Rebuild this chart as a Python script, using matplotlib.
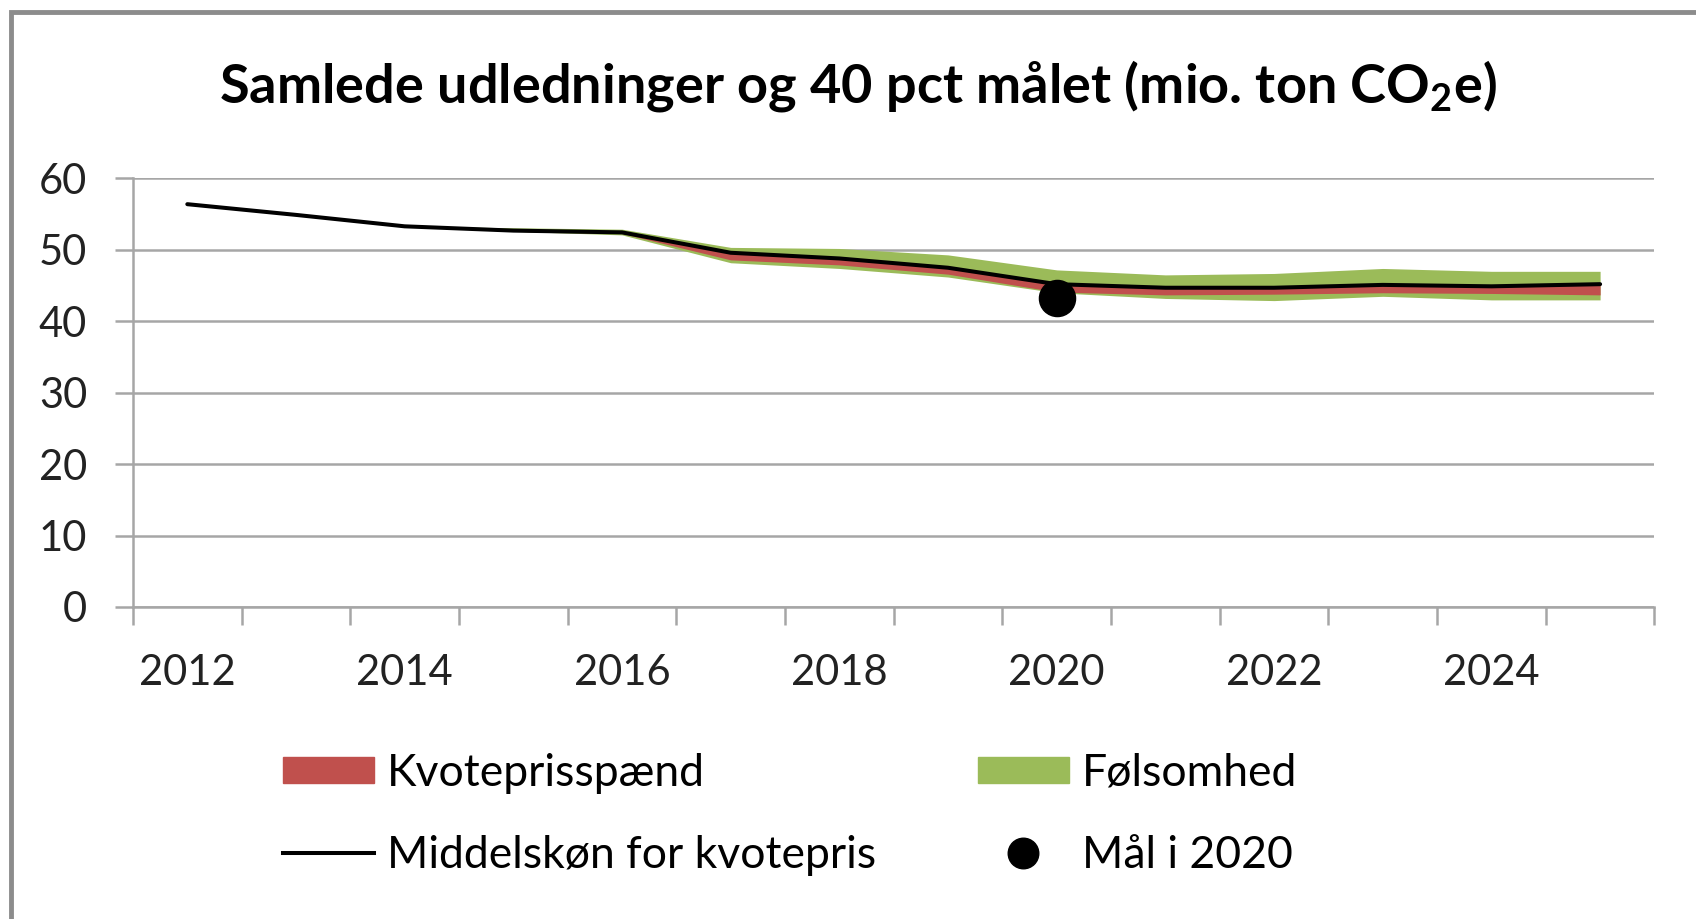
import numpy as np
import matplotlib.pyplot as plt
from matplotlib.lines import Line2D
from matplotlib.patches import Patch, Rectangle

years = list(range(2012, 2026))
# middle estimate for the allowance price (mio. ton CO2e)
middel = [56.4, 54.9, 53.3, 52.7, 52.45, 49.6, 48.8, 47.5, 45.2, 44.7, 44.7, 45.1, 44.9, 45.2]
# allowance price range
kvote_hi = [56.4, 54.9, 53.3, 52.8, 52.6, 49.8, 49.0, 47.7, 45.4, 44.9, 44.9, 45.3, 45.1, 45.4]
kvote_lo = [56.4, 54.9, 53.3, 52.6, 52.3, 48.6, 47.9, 46.6, 44.1, 43.7, 43.8, 44.0, 43.9, 43.7]
# sensitivity range
foel_hi = [56.4, 54.9, 53.3, 53.1, 52.9, 50.35, 50.2, 49.3, 47.2, 46.5, 46.7, 47.4, 47.0, 47.0]
foel_lo = [56.4, 54.9, 53.3, 52.6, 52.1, 48.2, 47.4, 46.2, 44.0, 43.2, 42.9, 43.5, 43.0, 43.0]
maal_aar = 2020
maal_vaerdi = 43.2

plt.rcParams['font.family'] = ['Lato', 'DejaVu Sans']
plt.rcParams['mathtext.fontset'] = 'custom'
plt.rcParams['mathtext.bf'] = 'Lato:bold'
plt.rcParams['mathtext.rm'] = 'Lato'
grey = '#a6a6a6'
red = '#c0504d'
green = '#9bbb59'

fig = plt.figure(figsize=(16.96, 9.19), dpi=100)
ax = fig.add_axes([0.0784, 0.3395, 0.8971, 0.4663])

x = np.arange(len(years))
ax.fill_between(x, foel_lo, foel_hi, color=green, lw=0, zorder=2)
ax.fill_between(x, kvote_lo, kvote_hi, color=red, lw=0, zorder=3)
ax.plot(x, middel, color='black', lw=2.9, zorder=4, solid_capstyle='round')
ax.plot(years.index(maal_aar), maal_vaerdi, 'o', color='black', ms=26, zorder=5)

ax.set_xlim(-0.5, len(years) - 0.5)
ax.set_ylim(0, 60)
ax.set_yticks(range(0, 61, 10))
ax.yaxis.grid(True, color=grey, lw=1.8)
ax.set_axisbelow(True)

ax.set_xticks(np.arange(-0.5, len(years), 1))
ax.set_xticklabels([])
lab_pos = [i for i, y in enumerate(years) if y % 2 == 0]
ax.set_xticks(lab_pos, [str(years[i]) for i in lab_pos], minor=True)
ax.tick_params(axis='x', which='major', length=13, width=1.8, color=grey)
ax.tick_params(axis='x', which='minor', length=0, pad=34, labelsize=30, labelcolor='#222222')
ax.tick_params(axis='y', length=13, width=1.8, color=grey, pad=20, labelsize=30,
               labelcolor='#222222')

for s in ['top', 'right']:
    ax.spines[s].set_visible(False)
for s in ['left', 'bottom']:
    ax.spines[s].set_color(grey)
    ax.spines[s].set_linewidth(1.8)

fig.text(0.506, 0.906, r'Samlede udledninger og 40 pct målet (mio. ton CO$_{\mathbf{2}}$e)',
         ha='center', va='center', fontsize=39, fontweight='bold')

handles = [Patch(color=red), Line2D([], [], color='black', lw=2.9),
           Patch(color=green), Line2D([], [], marker='o', ls='', color='black', ms=22)]
labels = ['Kvoteprisspænd', 'Middelskøn for kvotepris', 'Følsomhed', 'Mål i 2020']
fig.legend(handles, labels, ncol=2, loc='upper left', bbox_to_anchor=(0.1669, 0.181),
           frameon=False, fontsize=32, handlelength=2.05, handleheight=0.55,
           handletextpad=0.29, columnspacing=2.28, labelspacing=0.93,
           borderaxespad=0, borderpad=0)

# outer chart frame
fig.patches.append(Rectangle((10.5 / 1696, -0.05), 1.2, 1.05 - 11.5 / 919,
                             transform=fig.transFigure, fill=False,
                             ec='#8c8c8c', lw=3.5))

fig.savefig('out.png', dpi=100)
